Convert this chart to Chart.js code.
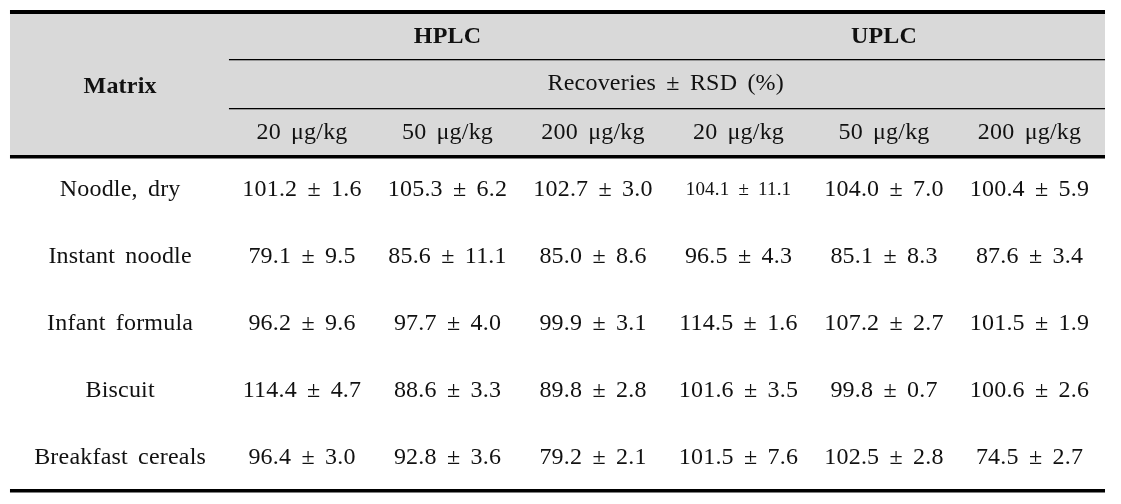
<!DOCTYPE html>
<html>
<head>
<meta charset="utf-8">
<script src="https://cdn.jsdelivr.net/npm/chart.js@4.4.1/dist/chart.umd.min.js"></script>
<style>
  html, body { margin: 0; padding: 0; background: #fff; }
  #wrap { width: 1121px; height: 504px; }
</style>
</head>
<body>
<div id="wrap"><canvas id="tbl" width="1121" height="504"></canvas></div>
<script>
// table contents
var matrices = ['Noodle, dry', 'Instant noodle', 'Infant formula', 'Biscuit', 'Breakfast cereals'];
var methods = ['HPLC', 'UPLC'];
var levels = ['20 μg/kg', '50 μg/kg', '200 μg/kg'];
var subHeader = 'Recoveries ± RSD (%)';

// recoveries (%) per matrix, for 20 / 50 / 200 μg/kg
var hplcMean = [[101.2, 105.3, 102.7], [79.1, 85.6, 85.0], [96.2, 97.7, 99.9], [114.4, 88.6, 89.8], [96.4, 92.8, 79.2]];
var hplcRsd  = [[1.6, 6.2, 3.0], [9.5, 11.1, 8.6], [9.6, 4.0, 3.1], [4.7, 3.3, 2.8], [3.0, 3.6, 2.1]];
var uplcMean = [[104.1, 104.0, 100.4], [96.5, 85.1, 87.6], [114.5, 107.2, 101.5], [101.6, 99.8, 100.6], [101.5, 102.5, 74.5]];
var uplcRsd  = [[11.1, 7.0, 5.9], [4.3, 8.3, 3.4], [1.6, 2.7, 1.9], [3.5, 0.7, 2.6], [7.6, 2.8, 2.7]];

// layout, in scale units (x: value columns, y: body rows)
var FONT = '"Liberation Serif", "Times New Roman", serif';
var matrixCol = -1.25;
var headY = [-2.284, -1.582, -0.851];
var lineY = { top: -2.657, h1: -1.940, h2: -1.209, head: -0.493, bottom: 4.493 };
var bandX = [-2.007, 5.519];
var innerX = -0.502;

var cells = [];
matrices.forEach(function (m, r) {
  cells.push({ x: matrixCol, y: r, text: m });
  for (var c = 0; c < 3; c++) {
    cells.push({ x: c, y: r, text: hplcMean[r][c].toFixed(1) + ' ± ' + hplcRsd[r][c].toFixed(1) });
    cells.push({ x: c + 3, y: r, text: uplcMean[r][c].toFixed(1) + ' ± ' + uplcRsd[r][c].toFixed(1),
                 small: r === 0 && c === 0 });
  }
});
levels.concat(levels).forEach(function (l, i) {
  cells.push({ x: i, y: headY[2], text: l });
});
cells.push({ x: 2.5, y: headY[1], text: subHeader });
cells.push({ x: 1, y: headY[0], text: methods[0], bold: true });
cells.push({ x: 4, y: headY[0], text: methods[1], bold: true });
cells.push({ x: matrixCol, y: headY[1] + 0.04, text: 'Matrix', bold: true });

var tablePlugin = {
  id: 'tableGrid',
  beforeDatasetsDraw: function (chart) {
    var ctx = chart.ctx, xs = chart.scales.x, ys = chart.scales.y;
    var x0 = xs.getPixelForValue(bandX[0]), x1 = xs.getPixelForValue(bandX[1]);
    ctx.save();
    ctx.fillStyle = '#d9d9d9';
    ctx.fillRect(x0, ys.getPixelForValue(lineY.top), x1 - x0,
                 ys.getPixelForValue(lineY.head) - ys.getPixelForValue(lineY.top));
    ctx.fillStyle = '#000';
    var rule = function (yv, xa, w) {
      var y = ys.getPixelForValue(yv);
      ctx.fillRect(xa, Math.round(y - w / 2), x1 - xa, w);
    };
    rule(lineY.top, x0, 4);
    rule(lineY.h1, xs.getPixelForValue(innerX), 1.3);
    rule(lineY.h2, xs.getPixelForValue(innerX), 1.3);
    rule(lineY.head, x0, 3.5);
    rule(lineY.bottom, x0, 3.5);
    ctx.restore();
  },
  afterDatasetsDraw: function (chart) {
    var ctx = chart.ctx;
    var meta = chart.getDatasetMeta(0);
    ctx.save();
    ctx.fillStyle = '#111';
    ctx.textAlign = 'center';
    ctx.textBaseline = 'middle';
    if ('wordSpacing' in ctx) ctx.wordSpacing = '4px';
    if ('letterSpacing' in ctx) ctx.letterSpacing = '0.2px';
    meta.data.forEach(function (pt, i) {
      var cell = cells[i];
      var size = cell.small ? 19 : 24;
      ctx.font = (cell.bold ? 'bold ' : '') + size + 'px ' + FONT;
      ctx.fillText(cell.text, pt.x, pt.y);
    });
    ctx.restore();
  }
};

new Chart(document.getElementById('tbl'), {
  type: 'scatter',
  data: {
    datasets: [{
      data: cells.map(function (c) { return { x: c.x, y: c.y }; }),
      pointRadius: 0,
      pointHoverRadius: 0
    }]
  },
  options: {
    responsive: false,
    animation: false,
    devicePixelRatio: 1,
    layout: { padding: 0 },
    events: [],
    plugins: { legend: { display: false }, tooltip: { enabled: false } },
    scales: {
      x: { type: 'linear', display: false, min: -2.0756, max: 5.6289 },
      y: { type: 'linear', display: false, reverse: true, min: -2.836, max: 4.687 }
    }
  },
  plugins: [tablePlugin]
});
</script>
</body>
</html>
